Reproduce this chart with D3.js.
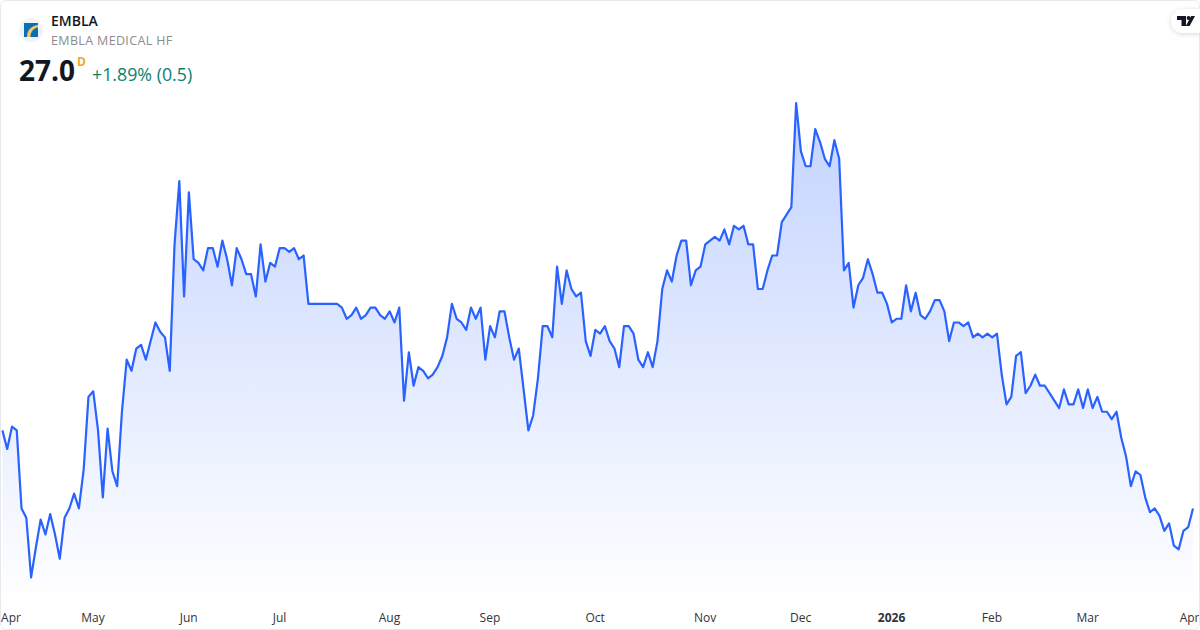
<!DOCTYPE html>
<html><head><meta charset="utf-8">
<script src="https://cdn.jsdelivr.net/npm/d3@7"></script>
<style>html,body{margin:0;padding:0;background:#fff;overflow:hidden}svg{display:block}text{font-family:"Open Sans","Noto Sans",sans-serif}</style>
</head><body><div id="c"></div>
<script>
const prices = [
29.1,28.6,29.2,29.1,27.0,26.75,25.15,25.95,26.7,26.3,26.85,26.3,25.65,26.75,27.0,27.4,27.0,28.05,30.0,30.15,29.1,27.3,29.15,28.0,27.6,29.6,31.0,30.7,31.3,31.4,31.0,31.5,
32.0,31.75,31.6,30.7,34.1,35.8,32.7,35.5,33.7,33.6,33.4,34.0,34.0,33.5,34.2,33.7,33.0,34.0,33.7,33.3,33.3,32.7,34.1,33.1,33.6,33.5,34.0,34.0,33.9,34.0,33.7,33.8,
32.5,32.5,32.5,32.5,32.5,32.5,32.5,32.4,32.1,32.2,32.4,32.1,32.2,32.4,32.4,32.2,32.1,32.3,32.0,32.4,29.9,31.2,30.3,30.8,30.7,30.5,30.6,30.8,31.1,31.6,32.5,32.1,32.0,31.8,32.4,32.1,32.4,31.0,31.9,31.6,32.3,32.3,31.6,31.0,31.3,30.2,29.1,29.5,30.5,31.9,31.9,31.6,33.5,32.5,33.4,32.9,32.7,32.8,31.5,31.1,31.8,31.7,31.9,31.5,31.3,30.8,31.9,31.9,31.7,31.0,30.8,31.2,30.8,31.5,32.9,33.4,33.1,33.8,34.2,34.2,33.0,33.4,33.5,34.1,34.2,34.3,34.2,34.5,34.1,34.6,34.5,34.6,34.1,34.1,32.9,32.9,33.4,33.8,33.8,34.7,34.9,35.1,37.9,36.6,36.2,36.2,37.2,36.85,36.4,36.2,36.9,36.4,33.4,33.6,32.4,33.0,33.2,33.7,33.3,32.8,32.8,32.5,32.0,32.1,32.1,33.0,32.3,32.8,32.2,32.1,32.3,32.6,32.6,32.3,31.5,32.0,32.0,31.9,32.0,31.6,31.7,31.6,31.7,31.6,31.7,30.6,29.8,30.0,31.1,31.2,30.1,30.3,30.6,30.3,30.3,30.1,29.9,29.7,30.2,29.8,29.8,30.2,29.7,30.2,29.7,30.0,29.6,29.6,29.4,29.6,28.9,28.4,27.6,28.0,27.9,27.3,26.9,27.0,26.8,26.4,26.6,26.0,25.9,26.4,26.5,27.0
];
const tickIndex = [0,19,39,58,81,102,124,147,167,186,207,227,249];
const tickLabels = ["Apr","May","Jun","Jul","Aug","Sep","Oct","Nov","Dec","2026","Feb","Mar","Apr"];
const symbol = "EMBLA", company = "EMBLA MEDICAL HF", lastPrice = "27.0", change = "+1.89% (0.5)", interval = "D";

const W = 1200, H = 630;
const svg = d3.select("#c").append("svg").attr("width", W).attr("height", H);
const x = d3.scaleLinear().domain([0, prices.length - 1]).range([2.4, 1193]);
const y = d3.scaleLinear().domain([25.15, 37.9]).range([577.3, 103]);

const defs = svg.append("defs");
const g = defs.append("linearGradient").attr("id","fill")
  .attr("gradientUnits","userSpaceOnUse").attr("x1",0).attr("x2",0).attr("y1",103).attr("y2",604);
g.append("stop").attr("offset",0).attr("stop-color","#2962ff").attr("stop-opacity",0.28);
g.append("stop").attr("offset",1).attr("stop-color","#2962ff").attr("stop-opacity",0);

svg.append("path").attr("fill","url(#fill)")
  .attr("d", d3.area().x((d,i)=>x(i)).y0(604).y1(d=>y(d))(prices));
svg.append("path").attr("fill","none").attr("stroke","#2962ff").attr("stroke-width",2.2).attr("stroke-linejoin","round")
  .attr("d", d3.line().x((d,i)=>x(i)).y(d=>y(d))(prices));

const ax = svg.append("g").attr("transform","translate(0,604)")
  .call(d3.axisBottom(x).tickValues(tickIndex).tickSize(0).tickPadding(0).tickFormat((d,i)=>tickLabels[i]));
ax.select(".domain").remove();
ax.selectAll("text").attr("y",0).attr("dy","17.5").attr("font-size",12).attr("fill","#333")
  .style("font-family",'"Open Sans","Noto Sans",sans-serif')
  .attr("font-weight",(d,i)=>tickLabels[i]==="2026"?700:400)
  .each(function(d){
    const b=this.getBBox(), cx=x(d);
    let dx=-0.7;
    if(cx-b.width/2<1) dx=0.5-(cx-b.width/2);
    if(cx+b.width/2>1199) dx=1199-(cx+b.width/2);
    d3.select(this).attr("dx",dx);
  });

// frame
svg.append("rect").attr("x",0.5).attr("y",0.5).attr("width",W-1).attr("height",H-1).attr("rx",6)
  .attr("fill","none").attr("stroke","#e6e8ee");

// header
svg.append("circle").attr("cx",31).attr("cy",30).attr("r",12).attr("fill","#f0f3fa");
svg.append("rect").attr("x",24).attr("y",23).attr("width",14).attr("height",14).attr("fill","#0a6fb5");
svg.append("path").attr("d","M27 37 C27 30 31 26 38 25 L38 27.5 C33.5 28 30.5 32 30.5 37 Z").attr("fill","#f4c667");
svg.append("text").attr("x",51).attr("y",26).attr("font-size",14).attr("font-weight",600).attr("fill","#131722").text(symbol);
svg.append("text").attr("x",51).attr("y",45).attr("font-size",12.5).attr("letter-spacing",0.35).attr("fill","#8c8c8c").text(company);
svg.append("text").attr("x",19).attr("y",81).attr("font-size",28).attr("font-weight",700).attr("fill","#131722").text(lastPrice);
svg.append("text").attr("x",77).attr("y",66).attr("font-size",12).attr("font-weight",700).attr("fill","#f5a623").text(interval);
svg.append("text").attr("x",92).attr("y",81).attr("font-size",17.8).attr("fill","#0b8270").text(change);

// TradingView badge
defs.append("filter").attr("id","sh").attr("x","-30%").attr("y","-40%").attr("width","160%").attr("height","180%")
  .append("feDropShadow").attr("dx",0).attr("dy",1).attr("stdDeviation",2.5).attr("flood-color","#000").attr("flood-opacity",0.16);
svg.append("path").attr("d","M1200 9 H1183 A12 12 0 0 0 1183 33 H1200 Z").attr("fill","#fff").attr("filter","url(#sh)");
svg.append("path").attr("fill","#131722")
  .attr("d","M1177 16 H1186 V26 H1181.5 V20 H1177 Z M1195 16 L1189.6 26 H1185.8 L1191.2 16 Z");
svg.append("circle").attr("cx",1188.6).attr("cy",18).attr("r",2).attr("fill","#131722");
</script></body></html>
